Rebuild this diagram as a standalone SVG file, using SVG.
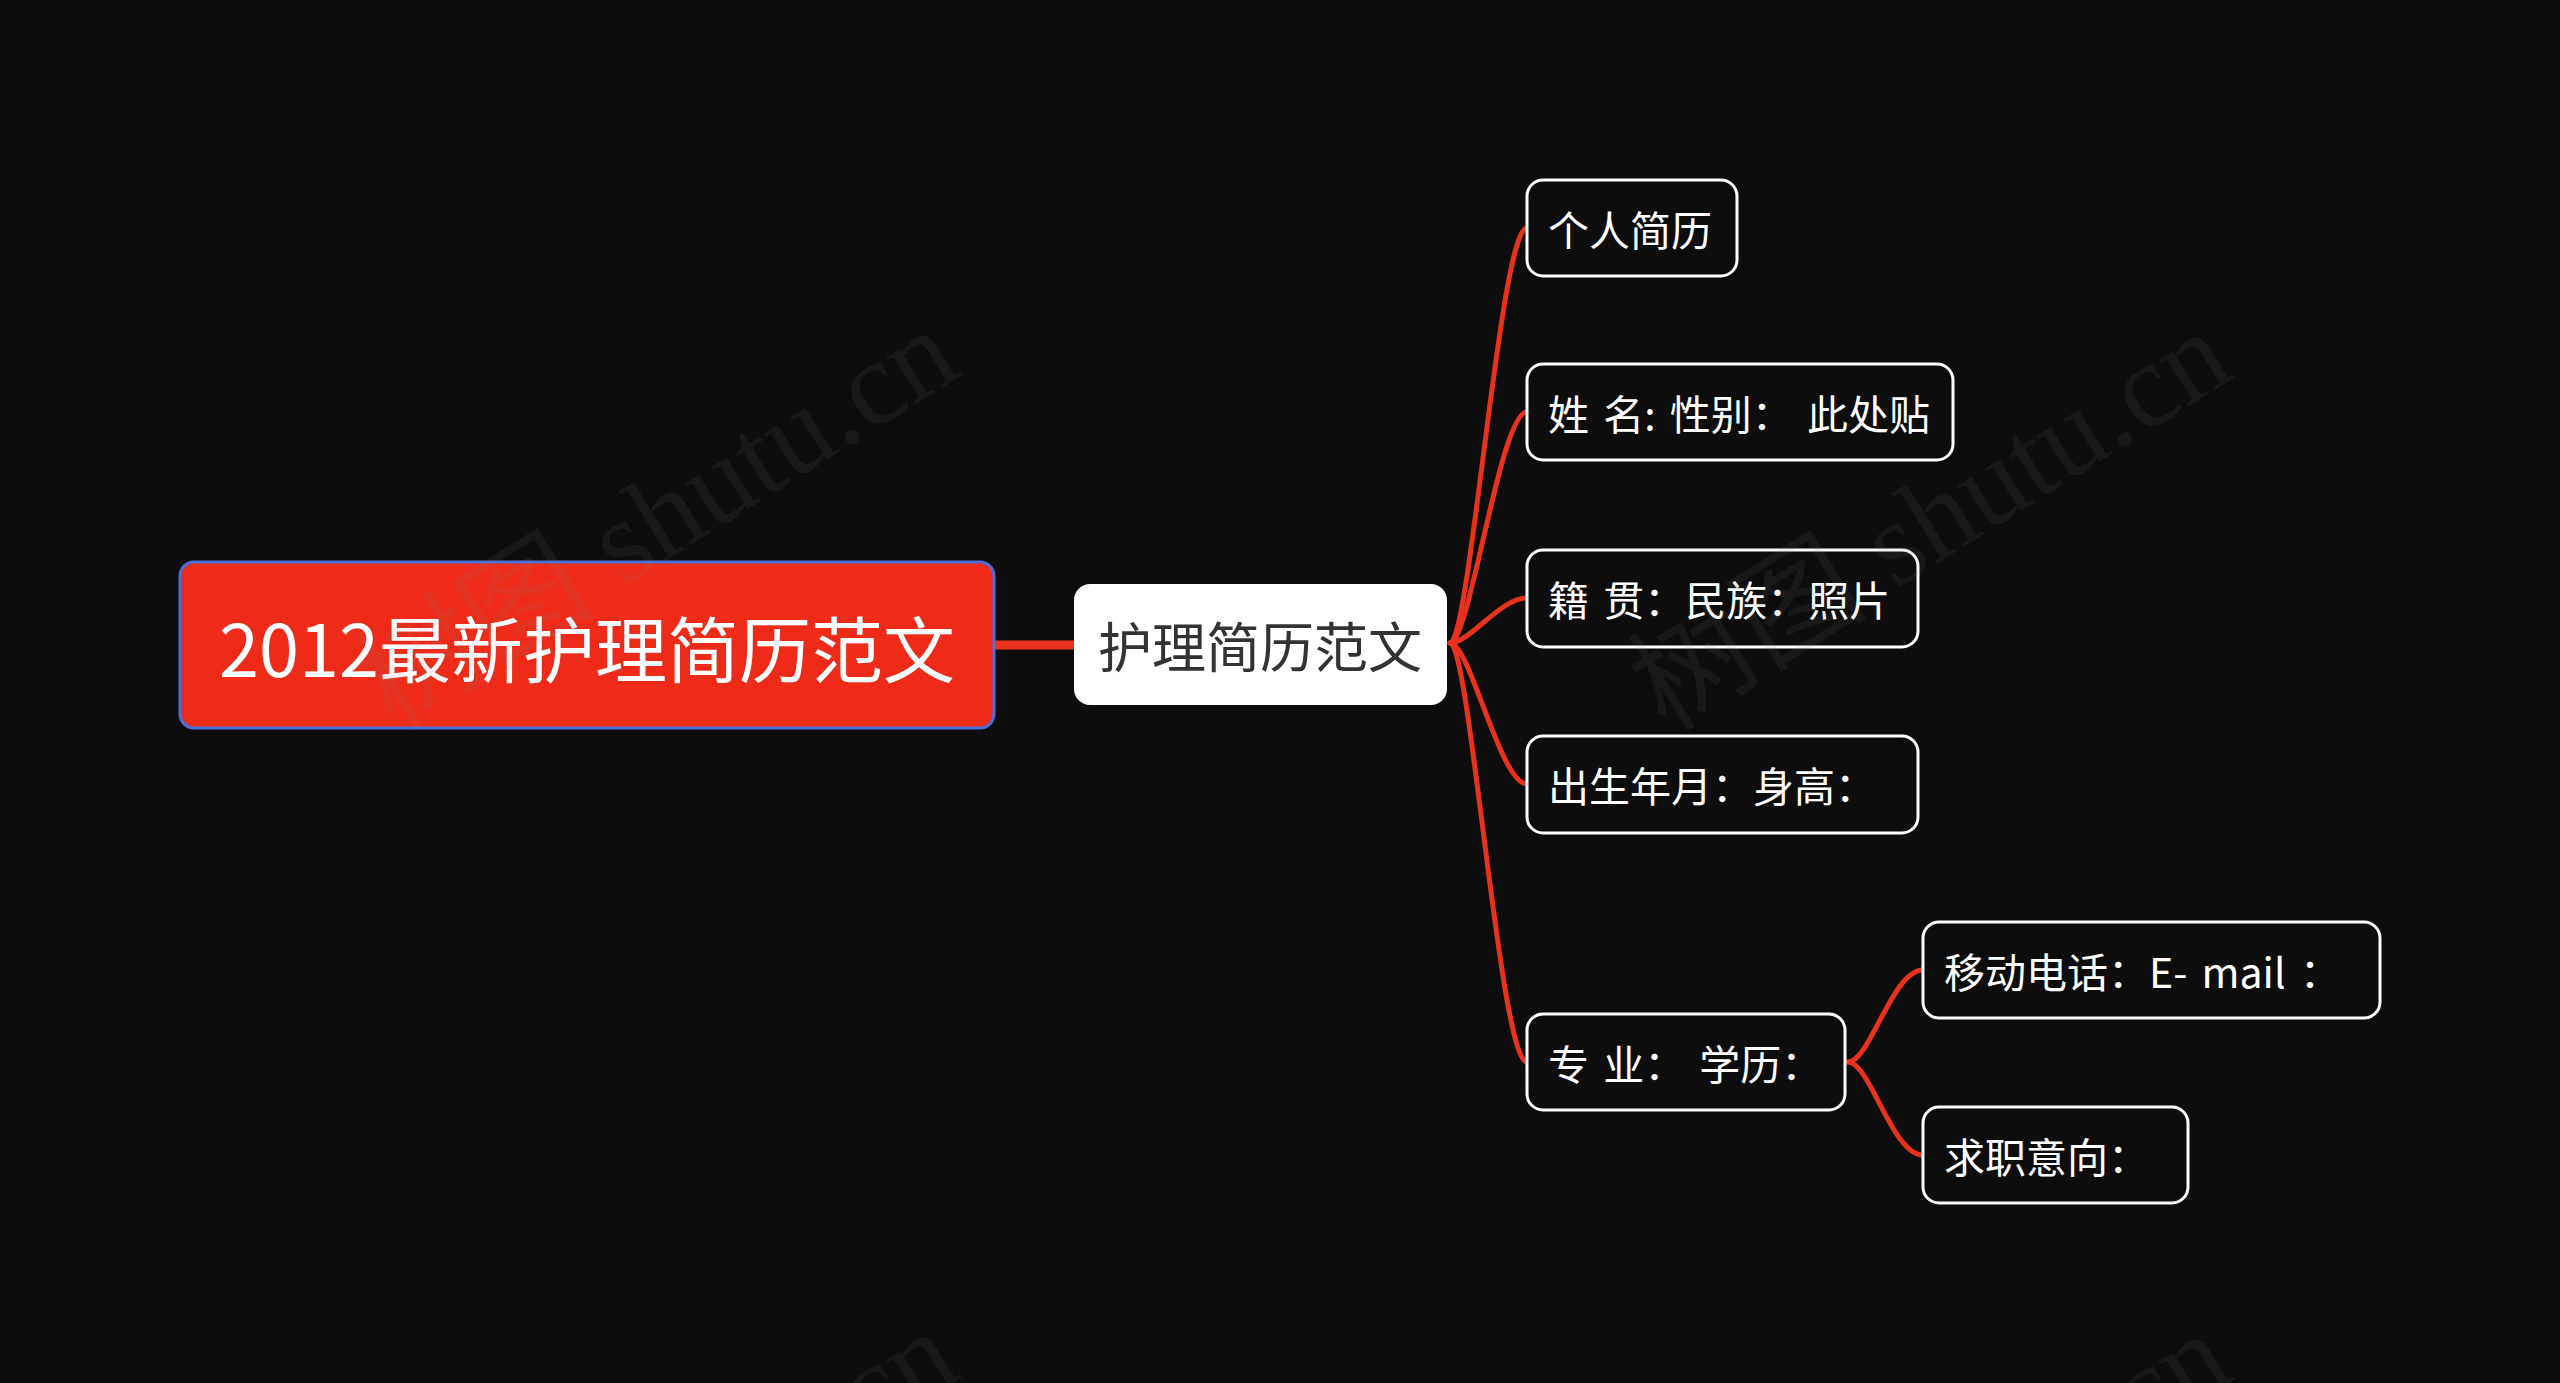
<svg xmlns="http://www.w3.org/2000/svg" width="2560" height="1383" viewBox="0 0 2560 1383">
<style>
.bg{fill:#0d0d0d}
.root{fill:#ee2a18;stroke:#4a6fd8;stroke-width:3}
.rootT{font-family:"Noto Sans CJK SC","Noto Sans",sans-serif;font-size:72px;fill:#ffffff}
.main{fill:#ffffff}
.mainT{font-family:"Noto Sans CJK SC","Noto Sans",sans-serif;font-size:54px;fill:#333333}
.leaf{fill:#0d0d0d;stroke:#ffffff;stroke-width:3}
.leafT{font-family:"Noto Sans CJK SC","Noto Sans",sans-serif;font-size:41px;fill:#ffffff;word-spacing:5px}
.ln{fill:none;stroke:#e8321e;stroke-width:5;stroke-linecap:round}
.wm{font-family:"Liberation Serif","Noto Sans CJK SC",serif;font-size:120px;fill:#8a8a8a;fill-opacity:0.1}
</style>
<rect class="bg" x="0" y="0" width="2560" height="1383"/>
<g id="connectors">
<line x1="994" y1="645" x2="1076" y2="645" stroke="#e8321e" stroke-width="9"/>
<path class="ln" d="M1450 643 C1470 643,1500 228,1527 228"/>
<path class="ln" d="M1450 643 C1470 643,1500 412,1527 412"/>
<path class="ln" d="M1450 643 C1470 643,1500 598,1527 598"/>
<path class="ln" d="M1450 643 C1470 643,1500 784,1527 784"/>
<path class="ln" d="M1450 643 C1470 643,1500 1062,1527 1062"/>
<path class="ln" d="M1848 1062 C1870 1062,1892 970,1923 970"/>
<path class="ln" d="M1848 1062 C1870 1062,1892 1155,1923 1155"/>
</g>
<g id="root">
<rect class="root" x="180" y="562" width="814" height="166" rx="14"/>
<text class="rootT" x="587" y="645" text-anchor="middle" dominant-baseline="central">2012最新护理简历范文</text>
</g>
<g id="main">
<rect class="main" x="1074" y="584" width="373" height="121" rx="16"/>
<text class="mainT" x="1260" y="644" text-anchor="middle" dominant-baseline="central">护理简历范文</text>
</g>
<g id="n1">
<rect class="leaf" x="1527" y="180" width="210" height="96" rx="16"/>
<text class="leafT" x="1548" y="228" dominant-baseline="central">个人简历</text>
</g>
<g id="n2">
<rect class="leaf" x="1527" y="364" width="426" height="96" rx="16"/>
<text class="leafT" x="1548" y="412" dominant-baseline="central" xml:space="preserve">姓 名: 性别： 此处贴</text>
</g>
<g id="n3">
<rect class="leaf" x="1527" y="550" width="391" height="97" rx="16"/>
<text class="leafT" x="1548" y="598" dominant-baseline="central">籍 贯：民族：照片</text>
</g>
<g id="n4">
<rect class="leaf" x="1527" y="736" width="391" height="97" rx="16"/>
<text class="leafT" x="1548" y="784" dominant-baseline="central">出生年月：身高：</text>
</g>
<g id="n5">
<rect class="leaf" x="1527" y="1014" width="318" height="96" rx="16"/>
<text class="leafT" x="1548" y="1062" dominant-baseline="central">专 业： 学历：</text>
</g>
<g id="n6">
<rect class="leaf" x="1923" y="922" width="457" height="96" rx="16"/>
<text class="leafT" x="1944" y="970" dominant-baseline="central">移动电话：E- mail ：</text>
</g>
<g id="n7">
<rect class="leaf" x="1923" y="1107" width="265" height="96" rx="16"/>
<text class="leafT" x="1944" y="1155" dominant-baseline="central">求职意向：</text>
</g>
<g id="watermark">
<text class="wm" x="657" y="518" text-anchor="middle" dominant-baseline="central" transform="rotate(-32 657 518)">树图 shutu.cn</text>
<text class="wm" x="1930" y="520" text-anchor="middle" dominant-baseline="central" transform="rotate(-32 1930 520)">树图 shutu.cn</text>
<text class="wm" x="657" y="1520" text-anchor="middle" dominant-baseline="central" transform="rotate(-32 657 1520)">树图 shutu.cn</text>
<text class="wm" x="1930" y="1522" text-anchor="middle" dominant-baseline="central" transform="rotate(-32 1930 1522)">树图 shutu.cn</text>
</g>
</svg>
